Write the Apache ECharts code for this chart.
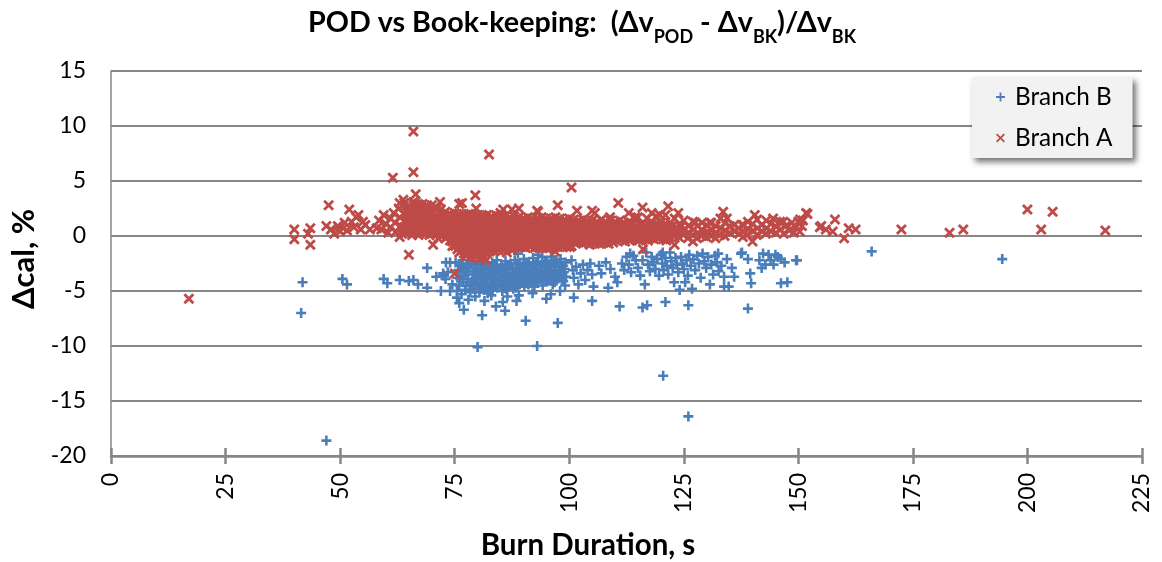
<!DOCTYPE html>
<html>
<head>
<meta charset="utf-8">
<script src="https://cdn.jsdelivr.net/npm/echarts@6/dist/echarts.min.js"></script>
<style>
html, body { margin: 0; padding: 0; background: #fff; }
#chart { width: 1162px; height: 562px; }
</style>
</head>
<body>
<div id="chart"></div>
<script>
var xTicks = [0, 25, 50, 75, 100, 125, 150, 175, 200, 225]
var yTicks = [-20, -15, -10, -5, 0, 5, 10, 15]

// [burn duration s, delta cal %]
var branchB = [
[47,-18.6],[126,-16.4],[120.5,-12.7],[80,-10.1],[93,-10],[41.5,-7],[41.8,-4.2],[50.5,-3.9],[51.5,-4.4],[59.5,-3.9],[60.3,-4.3],[63,-4],[65,-4.1],[66,-4],[67,-4.4],[69,-4.7],[69,-2.9],[72,-5],[74,-2.4],
[166,-1.4],[194.5,-2.1],[139,-6.6],[97.5,-7.9],[90.5,-7.7],[81,-7.2],[111,-6.4],[116,-6.5],[117,-6.3],[121,-6],[126,-6.3],[86,-6.8],[76,-6.1],[77,-6.7],[84,-6.4],[88.5,-5.9],[95,-5.7],
[71,-3.7],[72.5,-3.6],[73,-3.9],[73.5,-3.3],[74.5,-4.4],[74,-5],[75.5,-5],[75.5,-5.6],[76.5,-5.3],[78,-5.8],[79.5,-5.5],[81.5,-5.9],[83,-5.4],[85.5,-6],[86.5,-5.5],[89,-5.4],[92,-5.2],[96,-5.3],[98,-5],[101,-5.6],[105,-5.9],
[73.1,-2.4],[72.5,-3.4],[93.2,-1.7],[88.8,-1.6],[113.3,-1.6],[120.4,-1.5],[132.5,-1.6],[137.7,-1.5],[142.3,-1.6],[145,-1.7],[149.7,-2.2],[146.2,-4.3],[139.7,-4.3],[133.8,-4.6],
[75.2,-2.4],[75.8,-3.1],[75.6,-3.8],[76,-4.5],[76.7,-2.2],[76.9,-2.9],[77.1,-3.6],[76.8,-4.2],[77.3,-4.9],[77.9,-2.5],[78.1,-3.2],[77.8,-3.9],[78.3,-4.5],[78.4,-5.1],[79,-2.3],[79.2,-2.9],[78.9,-3.5],[79.3,-4.1],[79,-4.8],
[80.1,-2.6],[80.3,-3.3],[80,-3.9],[80.2,-4.5],[80.4,-5.1],[81.2,-2.4],[81,-3],[81.3,-3.6],[81.1,-4.3],[81.4,-4.9],[82.1,-2.7],[82.3,-3.4],[82,-4],[82.4,-4.6],[82.2,-5.2],[83.2,-2.4],[83,-3],[83.4,-3.7],[83.1,-4.3],[83.3,-4.9],
[84.2,-2.2],[84.1,-2.9],[84.4,-3.5],[84,-4.1],[84.3,-4.7],[85.2,-2.6],[85,-3.2],[85.3,-3.8],[85.1,-4.5],[85.4,-5],[86.1,-2.3],[86.3,-3],[86,-3.6],[86.4,-4.2],[86.2,-4.8],[87.2,-2.5],[87,-3.1],[87.3,-3.7],[87.1,-4.4],
[88.1,-2.2],[88.4,-2.9],[88,-3.5],[88.2,-4.1],[88.4,-4.7],[89.2,-2.6],[89,-3.2],[89.3,-3.8],[89.1,-4.4],[90.1,-2.1],[90.3,-2.8],[90,-3.4],[90.4,-4],[90.2,-4.6],[91.2,-2.5],[91,-3.1],[91.3,-3.7],[91.1,-4.4],
[92.1,-2],[92.4,-2.7],[92,-3.3],[92.2,-3.9],[92.4,-4.6],[93.2,-2.4],[93,-3],[93.3,-3.6],[93.1,-4.2],[94.1,-1.9],[94.3,-2.6],[94,-3.2],[94.4,-3.8],[94.2,-4.5],[95.2,-2.3],[95,-2.9],[95.3,-3.5],[95.1,-4.1],
[96.1,-1.9],[96.4,-2.5],[96,-3.1],[96.2,-3.8],[96.4,-4.4],[97.2,-2.2],[97,-2.8],[97.3,-3.4],[97.1,-4],[98.1,-2.1],[98.3,-2.7],[98,-3.3],[98.4,-3.9],[99.2,-2.4],[99,-3],[99.3,-3.7],[99.1,-4.5],
[76.3,-2.6],[76.4,-3.3],[76.2,-3.9],[77.6,-2.8],[77.4,-3.3],[77.5,-4.5],[78.6,-2.6],[78.7,-4.2],[79.6,-3.2],[79.7,-3.8],[79.6,-4.4],[80.7,-2.9],[80.6,-3.6],[80.8,-4.2],[80.7,-4.8],[81.7,-2.8],[81.6,-3.4],[81.8,-3.9],[81.7,-4.6],[82.7,-3.1],[82.8,-3.7],[82.7,-4.3],[82.8,-4.9],
[83.7,-2.7],[83.8,-3.3],[83.7,-4],[83.8,-4.6],[84.7,-3.1],[84.8,-3.8],[84.7,-4.4],[85.7,-2.9],[85.8,-3.5],[85.7,-4.1],[85.8,-4.7],[86.7,-2.7],[86.8,-3.4],[86.7,-4],[86.8,-4.6],[87.7,-2.9],[87.8,-3.5],[87.7,-4.1],[87.8,-4.8],
[88.7,-2.5],[88.8,-3.2],[88.7,-3.8],[88.8,-4.4],[89.7,-2.9],[89.8,-3.5],[89.7,-4.1],[90.7,-2.4],[90.8,-3.1],[90.7,-3.7],[90.8,-4.3],[91.7,-2.8],[91.8,-3.4],[91.7,-4],[92.7,-2.4],[92.8,-3],[92.7,-3.6],[92.8,-4.2],
[93.7,-2.7],[93.8,-3.3],[93.7,-3.9],[94.7,-2.3],[94.8,-2.9],[94.7,-3.5],[94.8,-4.1],[95.7,-2.6],[95.8,-3.2],[95.7,-3.8],[96.7,-2.2],[96.8,-3.1],[96.7,-3.7],[96.8,-4.2],[97.7,-2.5],[97.8,-3.1],[97.7,-3.7],[98.7,-2.7],[98.8,-3.3],[98.7,-4.1],
[100.5,-2.2],[100.8,-3.1],[101,-3.8],[101.5,-2.8],[102,-4.4],[102.5,-3.4],[103,-2.6],[103.5,-4],[104,-3.1],[104.6,-2.5],[105,-3.5],[105.3,-4.6],[106.5,-2.7],[107,-3.4],[108,-2.4],[108.5,-4.7],[109,-3],[110,-3.7],[110.5,-4.2],[111.5,-2.5],[112,-3.1],
[112.5,-1.9],[113,-2.6],[113.5,-3.3],[114,-1.8],[114.5,-2.2],[115,-2.9],[115.5,-3.6],[116,-2.2],[116.5,-4.4],[116.8,-1.5],[117.2,-2.6],[117.6,-3.2],[118,-1.9],[118.4,-2.4],[118.8,-3],[119.2,-2.1],[119.6,-3.6],[120,-1.7],[120.3,-2.5],[120.6,-3.1],[121,-2],[121.3,-2.7],[121.6,-3.5],[122,-1.5],[122.3,-2.3],[122.6,-2.9],[122.9,-4.2],[123.2,-2],[123.5,-2.6],[123.8,-3.3],[124.1,-4.9],[124.4,-1.9],[124.7,-2.5],[125,-3],[125.3,-4.2],[125.6,-2.2],[125.9,-3.6],[126.2,-1.7],[126.5,-2.7],[126.8,-4.8],[127.1,-2.1],[127.5,-3.1],[127.9,-1.8],[128.3,-2.5],[128.7,-3.8],[129.1,-1.6],[129.5,-2.3],[129.9,-2.9],[130.3,-1.9],[130.7,-4.4],[131,-2.6],[131.4,-3.5],[131.8,-1.8],[132.2,-2.4],[132.6,-3.2],[133.2,-2.7],[133.8,-3.7],[134.4,-2.1],[134.8,-4.6],[135.5,-2.9],[136,-3.7],[137.5,-1.6],[139,-2.1],[139.5,-3.4],[141.5,-2.2],[142,-2.9],[142.8,-2.6],[143.5,-1.7],[144,-2.2],[144.6,-2.6],[145.5,-1.9],[146.2,-2.1],[147,-2.4],[147.6,-4.2],[149.5,-2.2]
]

var branchA = [
[17,-5.7],[66,9.5],[82.5,7.4],[66,5.8],[61.5,5.3],[100.5,4.4],[66.5,3.8],[79.5,3.7],[47.5,2.8],[52,2.4],[54,1.9],[40,0.6],[40,-0.3],[43.5,-0.8],[43.5,0.7],[43,0.2],
[200,2.4],[205.5,2.2],[203,0.6],[217,0.5],[186,0.6],[183,0.3],[172.5,0.6],[162.5,0.6],[161,0.7],[160,-0.2],[158,1.5],[155,0.9],[156,0.6],[157.5,0.4],[152,2],[151,1.4],[75,-3.4],[65,-1.7],
[110.7,3],[116,2.6],[121.6,2.7],[118,2.1],[123.8,2.1],[133.6,2.2],[140.5,1.9],[151.7,2.1],[154.7,0.8],[116.1,-1.2],[140,-0.5],[97.5,2.8],[89,2.5],[93,2.3],[85,2.1],[76,2.9],[71,2.6],[66,3.1],[64,3],[105,2.3],[113,2.1],
[63,3],[63.8,3.3],[71.8,3.1],[76.6,3],[79.7,2.5],[85.6,2.4],[87.5,2.4],[93.2,2.2],[101.7,2.3],[63,-0.1],[65.7,0.1],[70.3,-0.8],[71.4,-0.2],[81.8,-2.2],[94.3,-1.1],[96.9,-1.4],[100.2,-1],[86.4,-1.5],
[105.6,2.1],[108.9,1.7],[114.4,1.7],[119.8,1.9],[127.5,1.2],[130.7,1.2],[134.4,1.6],[137.7,1],[144.5,1.6],[146.7,1.3],[150.4,1.5],[104.5,-0.8],[123,-0.8],[127,-0.5],[113.3,-0.4],
[47,0.9],[48,0.6],[48.7,0.2],[49.5,0.9],[50,0.4],[50.7,0.7],[51,1.2],[51.5,0.5],[52.5,1.3],[53,0.8],[53.5,1.7],[54.5,0.6],[55,1.3],[55.5,1],[56.5,0.6],[58,0.7],
[58.5,1.4],[59,0.6],[59.5,1.9],[60,1.1],[60.5,0.3],[61,1.6],[61,0.8],[61.7,2.1],[62,1.2],[62.2,0.4],[62.8,2.5],[63,1.7],[63.2,0.9],[63.5,0.2],
[64,2.6],[64.1,2],[64.2,1.4],[64,0.8],[64.3,0.3],[65,2.7],[65.1,2.1],[64.9,1.5],[65.2,0.9],[65,0.4],[66,2.8],[66.1,2.2],[65.9,1.6],[66.2,1],[66,0.5],[67,2.9],[67.1,2.3],[66.9,1.7],[67.2,1.1],[67,0.5],[67.1,0.1],
[68,2.9],[68.1,2.3],[67.9,1.7],[68.2,1.1],[68,0.5],[69,2.8],[69.1,2.2],[68.9,1.6],[69.2,1],[69,0.4],[70,2.8],[70.1,2.2],[69.9,1.6],[70.2,1],[70,0.4],[71,2.4],[71.1,1.8],[70.9,1.2],[71.2,0.6],[71,0.1],
[72,2.4],[72.1,1.8],[71.9,1.2],[72.2,0.6],[72,0],[73,2.2],[73.1,1.6],[72.9,1],[73.2,0.4],[73,-0.2],[74,2],[74.1,1.4],[73.9,0.8],[74.2,0.2],[74,-0.4],[74.5,-0.9],
[75,2.1],[75.1,1.5],[74.9,0.9],[75.2,0.3],[75,-0.3],[75.1,-0.9],[76,2],[76.1,1.4],[75.9,0.8],[76.2,0.2],[76,-0.4],[76.1,-1],[76,-1.5],[77,2],[77.1,1.4],[76.9,0.8],[77.2,0.2],[77,-0.4],[77.1,-1],[77,-1.6],
[78,2],[78.1,1.4],[77.9,0.8],[78.2,0.2],[78,-0.4],[78.1,-1],[78,-1.6],[79,1.9],[79.1,1.3],[78.9,0.7],[79.2,0.1],[79,-0.5],[79.1,-1.1],[79,-1.7],[80,1.9],[80.1,1.3],[79.9,0.7],[80.2,0.1],[80,-0.5],[80.1,-1.1],[80,-1.7],[80.4,-2.1],
[81,1.9],[81.1,1.3],[80.9,0.7],[81.2,0.1],[81,-0.5],[81.1,-1.1],[81,-1.6],[82,1.9],[82.1,1.3],[81.9,0.7],[82.2,0.1],[82,-0.5],[82.1,-1.1],[82,-1.6],[83,1.8],[83.1,1.2],[82.9,0.6],[83.2,0],[83,-0.6],[83.1,-1.2],
[84,1.9],[84.1,1.3],[83.9,0.7],[84.2,0.1],[84,-0.5],[84.1,-1.1],[85,1.8],[85.1,1.2],[84.9,0.6],[85.2,0],[85,-0.6],[85.1,-1.1],[86,1.8],[86.1,1.2],[85.9,0.6],[86.2,0],[86,-0.6],[86.1,-1.1],
[87,1.7],[87.1,1.1],[86.9,0.5],[87.2,-0.1],[87,-0.7],[87.1,-1.1],[88,1.8],[88.1,1.2],[87.9,0.6],[88.2,0],[88,-0.6],[88.1,-1],[89,1.7],[89.1,1.1],[88.9,0.5],[89.2,-0.1],[89,-0.7],[89.1,-1],
[90,1.6],[90.1,1],[89.9,0.4],[90.2,-0.2],[90,-0.8],[91,1.7],[91.1,1.1],[90.9,0.5],[91.2,-0.1],[91,-0.7],[92,1.6],[92.1,1],[91.9,0.4],[92.2,-0.2],[92,-0.8],[93,1.6],[93.1,1],[92.9,0.4],[93.2,-0.2],[93,-0.9],
[94,1.7],[94.1,1.1],[93.9,0.5],[94.2,-0.1],[94,-0.7],[95,1.6],[95.1,1],[94.9,0.4],[95.2,-0.2],[95,-0.8],[96,1.6],[96.1,1],[95.9,0.4],[96.2,-0.2],[96,-0.8],[97,1.7],[97.1,1.1],[96.9,0.5],[97.2,-0.1],[97,-0.7],
[98,1.6],[98.1,1],[97.9,0.4],[98.2,-0.2],[98,-0.7],[99,1.5],[99.1,0.9],[98.9,0.3],[99.2,-0.3],[99,-0.8],[100,1.6],[100.1,1],[99.9,0.4],[100.2,-0.2],[100,-0.7],
[64.5,2.4],[64.6,1.8],[64.5,1.2],[64.6,0.6],[65.5,2.5],[65.6,1.9],[65.5,1.3],[65.6,0.7],[66.5,2.6],[66.6,2],[66.5,1.4],[66.6,0.8],[66.5,0.3],[67.5,2.6],[67.6,2],[67.5,1.4],[67.6,0.8],[67.5,0.3],[68.5,2.6],[68.6,2],[68.5,1.4],[68.6,0.8],[68.5,0.2],[69.5,2.5],[69.6,1.9],[69.5,1.3],[69.6,0.7],[69.5,0.1],
[70.5,2.5],[70.6,1.5],[70.5,0.9],[70.6,0.3],[71.5,2.1],[71.6,1.5],[71.5,0.9],[71.6,0.3],[72.5,2],[72.6,1.4],[72.5,0.8],[72.6,0.2],[73.5,1.9],[73.6,1.2],[73.5,0.6],[73.6,0],[74.5,1.8],[74.6,1.2],[74.5,0.6],[74.6,0],[74.5,-0.5],
[75.5,1.8],[75.6,1.1],[75.5,0.5],[75.6,-0.1],[75.5,-0.7],[75.6,-1.2],[76.5,1.7],[76.6,1.1],[76.5,0.5],[76.6,-0.1],[76.5,-0.7],[76.6,-1.3],[77.5,1.7],[77.6,1.1],[77.5,0.5],[77.6,-0.1],[77.5,-0.7],[77.6,-1.3],[77.5,-1.8],[78.5,1.6],[78.6,1],[78.5,0.4],[78.6,-0.2],[78.5,-0.8],[78.6,-1.4],[78.5,-1.9],
[79.5,1.6],[79.6,1],[79.5,0.4],[79.6,-0.2],[79.5,-0.8],[79.6,-1.4],[79.5,-1.9],[80.5,1.6],[80.6,1],[80.5,0.4],[80.6,-0.2],[80.5,-0.8],[80.6,-1.4],[81.5,1.6],[81.6,1],[81.5,0.4],[81.6,-0.2],[81.5,-0.8],[81.6,-1.4],[81.5,-1.8],[82.5,1.5],[82.6,0.9],[82.5,0.3],[82.6,-0.3],[82.5,-0.9],[82.6,-1.4],
[83.5,1.6],[83.6,0.9],[83.5,0.3],[83.6,-0.3],[83.5,-0.9],[83.6,-1.4],[84.5,1.5],[84.6,0.9],[84.5,0.3],[84.6,-0.3],[84.5,-0.9],[84.6,-1.3],[85.5,1.5],[85.6,0.9],[85.5,0.3],[85.6,-0.3],[85.5,-0.9],[85.6,-1.3],[86.5,1.4],[86.6,0.8],[86.5,0.2],[86.6,-0.4],[86.5,-0.9],[87.5,1.5],[87.6,0.8],[87.5,0.2],[87.6,-0.4],[87.5,-1],[87.6,-1.3],
[88.5,1.4],[88.6,0.8],[88.5,0.2],[88.6,-0.4],[88.5,-1],[89.5,1.4],[89.6,0.7],[89.5,0.1],[89.6,-0.5],[89.5,-1],[90.5,1.4],[90.6,0.7],[90.5,0.1],[90.6,-0.5],[90.5,-1.1],[91.5,1.3],[91.6,0.8],[91.5,0.2],[91.6,-0.4],[91.5,-1],[92.5,1.3],[92.6,0.7],[92.5,0.1],[92.6,-0.5],[92.5,-1.1],
[93.5,1.3],[93.6,0.7],[93.5,0.1],[93.6,-0.5],[93.5,-1.1],[94.5,1.3],[94.6,0.7],[94.5,0.1],[94.6,-0.5],[94.5,-1],[95.5,1.3],[95.6,0.7],[95.5,0.1],[95.6,-0.5],[95.5,-1.1],[96.5,1.3],[96.6,0.7],[96.5,0.1],[96.6,-0.5],[96.5,-1.1],[97.5,1.3],[97.6,0.7],[97.5,0.1],[97.6,-0.5],[97.5,-1],[98.5,1.2],[98.6,0.6],[98.5,0],[98.6,-0.5],[98.5,-1],[99.5,1.2],[99.6,0.6],[99.5,0],[99.6,-0.5],[99.5,-1],
[100.5,1.2],[100.6,0.6],[100.5,0],[100.6,-0.5],[100.5,-0.9],[101.5,1.1],[101.6,0.5],[101.5,-0.1],[101.6,-0.6],[102.5,1.2],[102.6,0.5],[102.5,-0.1],[102.6,-0.6],[103.5,1.1],[103.6,0.5],[103.5,-0.1],[103.6,-0.6],[104.5,1.1],[104.6,0.5],[104.5,-0.1],[105.5,1],[105.6,0.4],[105.5,-0.2],[105.6,-0.7],[106.5,1.1],[106.6,0.4],[106.5,-0.2],[106.6,-0.7],[107.5,1.1],[107.6,0.5],[107.5,-0.1],[107.6,-0.6],[108.5,1],[108.6,0.4],[108.5,-0.2],[108.6,-0.7],[109.5,1],[109.6,0.4],[109.5,-0.2],[109.6,-0.6],
[101,1.5],[101.1,0.9],[100.9,0.3],[101.2,-0.3],[102,1.4],[102.1,0.8],[101.9,0.2],[102.2,-0.4],[103,1.5],[103.1,0.9],[102.9,0.3],[103.2,-0.3],[103,-0.7],[104,1.4],[104.1,0.8],[103.9,0.2],[104.2,-0.4],[105,1.4],[105.1,0.8],[104.9,0.2],[105.2,-0.4],
[106,1.3],[106.1,0.7],[105.9,0.1],[106.2,-0.5],[107,1.5],[107.1,0.9],[106.9,0.3],[107.2,-0.3],[108,1.3],[108.1,0.7],[107.9,0.1],[108.2,-0.5],[109,1.4],[109.1,0.8],[108.9,0.2],[109.2,-0.4],[110,1.3],[110.1,0.7],[109.9,0.1],[110.2,-0.4],
[111,1.4],[111.1,0.8],[110.9,0.2],[111.2,-0.3],[112,1.2],[112.1,0.6],[111.9,0],[112.2,-0.5],[113,1.3],[113.1,0.7],[112.9,0.1],[113.2,-0.4],[114,1.1],[114.1,0.5],[113.9,-0.1],[115,1.7],[115.1,0.6],[114.9,0],[115.2,-0.4],
[110.5,1],[110.6,0.4],[110.5,-0.2],[111.5,1.1],[111.6,0.5],[111.5,-0.1],[112.5,1],[112.6,0.3],[112.5,-0.2],[113.5,1],[113.6,0.4],[113.5,-0.2],[114.5,0.9],[114.6,0.3],[114.5,-0.3],[115.5,1],[115.6,0.3],[115.5,-0.2],[116.5,0.9],[116.6,0.3],[116.5,-0.3],[117.5,1],[117.6,0.3],[117.5,-0.2],[118.5,0.9],[118.6,0.3],[118.5,-0.3],[119.5,1],[119.6,0.3],[119.5,-0.2],[120.5,0.9],[120.6,0.3],[120.5,-0.3],[121.5,0.9],[121.6,0.3],[121.5,-0.2],[122.5,0.9],[122.6,0.2],[123.5,0.8],[123.6,0.2],[124.5,0.9],[124.6,0.3],
[116,1.2],[116.1,0.6],[115.9,0],[117,1.6],[117.1,0.7],[116.9,0.1],[117.2,-0.4],[118,1.3],[118.1,0.5],[117.9,-0.1],[119,1.8],[119.1,0.7],[118.9,0.1],[120,1.2],[120.1,0.5],[119.9,-0.1],[121,1.9],[121.1,0.7],[120.9,0.1],[121.2,-0.4],
[122,1.2],[122.1,0.5],[121.9,-0.1],[123,1.6],[123.1,0.6],[122.9,0],[124,1.1],[124.1,0.5],[123.9,-0.1],[125,1.4],[125.1,0.6],[124.9,0.1],[126,0.9],[126.1,0.3],[125.9,-0.2],[127,1.3],[127.1,0.6],[126.9,0.1],
[128,0.9],[128.1,0.3],[127.9,-0.2],[129,1.2],[129.1,0.5],[128.9,0],[130,1],[130.1,0.4],[129.9,-0.1],[131,1.2],[131.1,0.5],[130.9,0],[132,0.9],[132.1,0.3],[131.9,-0.2],[133,1.6],[133.1,0.7],[132.9,0.1],
[134,1.2],[134.1,0.5],[133.9,0],[135,0.9],[135.1,0.3],[136,1],[136.1,0.4],[137,0.7],[137.1,0.2],[138,1],[138.1,0.4],[137.9,-0.1],[139,1.3],[139.1,0.6],[138.9,0.1],[140,1.1],[140.1,0.5],[141,1.5],[141.1,0.7],[140.9,0.1],
[142,1],[142.1,0.4],[143,1.4],[143.1,0.7],[142.9,0.2],[144,1.1],[144.1,0.4],[145,0.9],[145.1,0.3],[146,1.3],[146.1,0.6],[146.8,0.2],[147.5,1],[148,0.5],[148.6,1.2],[149,0.3],[149.5,0.8],[150,1.3],[150.3,0.4],[150.8,0.9]
]

var plusIcon = 'path://M4 0H6V4H10V6H6V10H4V6H0V4H4Z'
var crossIcon = 'path://M1.4 0L5 3.6L8.6 0L10 1.4L6.4 5L10 8.6L8.6 10L5 6.4L1.4 10L0 8.6L3.6 5L0 1.4Z'
var plusMark = 'path://M3.7 0H6.3V3.7H10V6.3H6.3V10H3.7V6.3H0V3.7H3.7Z'
var crossMark = 'path://M1.8 0L5 3.2L8.2 0L10 1.8L6.8 5L10 8.2L8.2 10L5 6.8L1.8 10L0 8.2L3.2 5L0 1.8Z'
var blue = '#4a7ebb'
var red = '#be4b48'
var grey = '#868686'
var fontName = 'Lato'

var chart = echarts.init(document.getElementById('chart'), null, {renderer: 'canvas'})
chart.setOption({
  animation: false,
  backgroundColor: '#fff',
  textStyle: {fontFamily: fontName},
  title: {
    left: 308,
    top: 5,
    padding: 0,
    text: '{b|POD vs Book-keeping:  (Δv}{s|POD}{b| - Δv}{s|BK}{b|)/Δv}{s|BK}',
    textStyle: {
      rich: {
        b: {fontFamily: fontName, fontWeight: 'bold', fontSize: 28.7, color: '#000', height: 36, verticalAlign: 'top'},
        s: {fontFamily: fontName, fontWeight: 'bold', fontSize: 18, color: '#000', height: 36, padding: [14, 0, 0, 0]}
      }
    }
  },
  legend: {
    orient: 'vertical',
    left: 972,
    top: 77,
    padding: [8, 20, 8, 24],
    itemGap: 17,
    itemWidth: 9,
    itemHeight: 9,
    backgroundColor: '#f2f2f2',
    shadowColor: 'rgba(0,0,0,0.55)',
    shadowBlur: 6,
    shadowOffsetX: 3,
    shadowOffsetY: 4,
    textStyle: {fontFamily: fontName, fontSize: 24.3, color: '#000', padding: [0, 0, 0, 5]},
    data: [{name: 'Branch B', icon: plusIcon}, {name: 'Branch A', icon: crossIcon}]
  },
  grid: {left: 111, right: 20, top: 71, bottom: 106, outerBoundsMode: 'none'},
  xAxis: [{
    type: 'value',
    min: xTicks[0],
    max: xTicks[xTicks.length - 1],
    interval: 25,
    name: 'Burn Duration, s',
    nameLocation: 'middle',
    nameGap: 74,
    nameTextStyle: {fontFamily: fontName, fontWeight: 'bold', fontSize: 29.5, color: '#000', padding: [0, 77, 0, 0]},
    axisLine: {onZero: false, lineStyle: {color: grey, width: 2.5}},
    axisTick: {show: true, length: 8, lineStyle: {color: grey, width: 2.5}},
    axisLabel: {rotate: 90, fontFamily: fontName, fontSize: 23, color: '#000', margin: 17},
    splitLine: {show: false}
  }, {
    // second copy only to draw the tick half above the axis
    type: 'value',
    position: 'bottom',
    min: xTicks[0],
    max: xTicks[xTicks.length - 1],
    interval: 25,
    axisLine: {show: false, onZero: false},
    axisTick: {show: true, inside: true, length: 8, lineStyle: {color: grey, width: 2.5}},
    axisLabel: {show: false},
    splitLine: {show: false}
  }],
  yAxis: {
    type: 'value',
    min: yTicks[0],
    max: yTicks[yTicks.length - 1],
    interval: 5,
    name: 'Δcal, %',
    nameLocation: 'middle',
    nameGap: 70,
    nameTextStyle: {fontFamily: fontName, fontWeight: 'bold', fontSize: 31, color: '#000', padding: [0, 0, 0, 9]},
    axisLine: {show: true, lineStyle: {color: grey, width: 1.5}},
    axisTick: {show: false},
    axisLabel: {fontFamily: fontName, fontSize: 23, color: '#000', margin: 25},
    splitLine: {show: true, lineStyle: {color: grey, width: 2}}
  },
  series: [{
    name: 'Branch B',
    type: 'scatter',
    symbol: plusMark,
    symbolSize: 10,
    itemStyle: {color: blue, opacity: 1},
    data: branchB
  }, {
    name: 'Branch A',
    type: 'scatter',
    symbol: crossMark,
    symbolSize: 11,
    itemStyle: {color: red, opacity: 1},
    data: branchA
  }]
})
</script>
</body>
</html>
